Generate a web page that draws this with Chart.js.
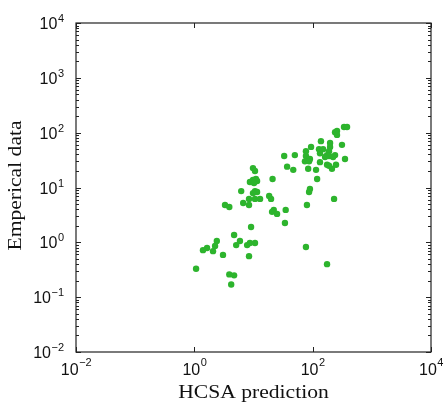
<!DOCTYPE html>
<html>
<head>
<meta charset="utf-8">
<script src="https://cdn.jsdelivr.net/npm/chart.js@4.4.1/dist/chart.umd.min.js"></script>
<style>
  html, body { margin: 0; padding: 0; background: #fff; }
  #wrap { width: 445px; height: 402px; }
</style>
</head>
<body>
<div id="wrap"><canvas id="scatterChart"></canvas></div>
<script>
// HCSA predictions vs. empirical measurements
const hcsaPred = [
  339, 381, 258, 239, 258, 138, 197, 313, 94, 197,
  128, 150, 77, 189, 133, 33, 50, 77, 90, 175,
  189, 239, 74, 87, 162, 221, 352, 133, 175, 189,
  248, 212, 37, 47, 84, 114, 9.8, 10.6, 11, 9.8,
  11.5, 8.7, 10.2, 21, 119, 6.2, 10.6, 11.5, 9.8, 90,
  87, 18.4, 19.8, 8.4, 10.6, 12.9, 6.7, 8.4, 3.3, 3.9,
  80, 230, 22, 20.6, 25, 35, 34, 9.1, 4.7, 2.4,
  5.9, 5.1, 2.24, 1.64, 1.40, 2.07, 10.6, 8.7, 7.8, 77,
  3.05, 8.4, 1.07, 175, 3.9, 4.7, 4.2
];
const empirical = [
  127, 127, 107, 102, 91, 70, 65, 60, 55, 55,
  50, 50, 46, 46, 42, 37.5, 39, 37.5, 33, 39,
  37.5, 39, 30, 30, 36, 36, 33, 29, 26, 25,
  26, 22, 24, 21, 22, 21, 22.6, 20, 14.3, 13.7,
  13.1, 12.6, 12.1, 14.3, 14.3, 8.6, 8.6, 8.3, 7.9, 9.4,
  8.3, 7.0, 6.2, 6.2, 6.2, 6.2, 5.2, 4.8, 4.8, 4.4,
  4.8, 6.2, 3.9, 3.6, 3.3, 3.9, 2.25, 1.9, 1.36, 1.06,
  1.06, 0.89, 0.86, 0.79, 0.72, 0.69, 0.97, 0.97, 0.89, 0.82,
  0.59, 0.56, 0.33, 0.40, 0.26, 0.25, 0.17
];

// decade exponents that get a label
const xTickExp = [-2, 0, 2, 4];
const yTickExp = [-2, -1, 0, 1, 2, 3, 4];
const minorSteps = [2, 3, 4, 5, 6, 7, 8, 9];

const points = hcsaPred.map((x, i) => ({ x: x, y: empirical[i] }));

// frame, inward ticks and power-of-ten labels, matlab style
const axesPlugin = {
  id: 'logAxes',
  afterDraw(chart) {
    const ctx = chart.ctx;
    const a = chart.chartArea;
    const xs = chart.scales.x, ys = chart.scales.y;
    ctx.save();
    ctx.strokeStyle = '#222';
    ctx.lineWidth = 1.2;
    ctx.strokeRect(a.left, a.top, a.right - a.left, a.bottom - a.top);

    ctx.lineWidth = 1;
    ctx.beginPath();
    xTickExp.forEach(e => {
      const px = Math.round(xs.getPixelForValue(Math.pow(10, e))) + 0.5;
      ctx.moveTo(px, a.bottom); ctx.lineTo(px, a.bottom - 5);
      ctx.moveTo(px, a.top); ctx.lineTo(px, a.top + 5);
    });
    yTickExp.forEach(e => {
      const py = Math.round(ys.getPixelForValue(Math.pow(10, e))) + 0.5;
      ctx.moveTo(a.left, py); ctx.lineTo(a.left + 5, py);
      ctx.moveTo(a.right, py); ctx.lineTo(a.right - 5, py);
      if (e < 4) {
        minorSteps.forEach(m => {
          const q = Math.round(ys.getPixelForValue(m * Math.pow(10, e))) + 0.5;
          ctx.moveTo(a.left, q); ctx.lineTo(a.left + 3, q);
          ctx.moveTo(a.right, q); ctx.lineTo(a.right - 3, q);
        });
      }
    });
    ctx.stroke();

    ctx.fillStyle = '#111';
    const baseFont = '16px "Liberation Sans", Arial, sans-serif';
    const expFont = '11px "Liberation Sans", Arial, sans-serif';
    const expText = e => (e < 0 ? '\u2212' : '') + Math.abs(e);

    // x labels, centred under the tick
    ctx.textBaseline = 'alphabetic';
    xTickExp.forEach(e => {
      const px = xs.getPixelForValue(Math.pow(10, e));
      ctx.font = baseFont;
      const wb = ctx.measureText('10').width;
      ctx.font = expFont;
      const we = ctx.measureText(expText(e)).width;
      const x0 = px - (wb + we) / 2;
      ctx.textAlign = 'left';
      ctx.font = baseFont;
      ctx.fillText('10', x0, a.bottom + 23);
      ctx.font = expFont;
      ctx.fillText(expText(e), x0 + wb + 0.5, a.bottom + 14);
    });

    // y labels, right aligned next to the axis
    yTickExp.forEach(e => {
      const py = ys.getPixelForValue(Math.pow(10, e));
      ctx.font = expFont;
      const we = ctx.measureText(expText(e)).width;
      ctx.textAlign = 'right';
      ctx.fillText(expText(e), a.left - 12, py - 1);
      ctx.font = baseFont;
      ctx.fillText('10', a.left - 12 - we - 0.5, py + 6);
    });

    // axis titles (serif, slightly widened)
    ctx.font = '18px "Liberation Serif", "Times New Roman", serif';
    ctx.textAlign = 'center';
    ctx.textBaseline = 'alphabetic';
    ctx.save();
    ctx.translate((a.left + a.right) / 2, a.bottom + 46);
    ctx.scale(1.2, 1);
    ctx.fillText('HCSA prediction', 0, 0);
    ctx.restore();
    ctx.translate(21, (a.top + a.bottom) / 2 - 2);
    ctx.rotate(-Math.PI / 2);
    ctx.scale(1.2, 1);
    ctx.fillText('Emperical data', 0, 0);
    ctx.restore();
  }
};

new Chart(document.getElementById('scatterChart'), {
  type: 'scatter',
  data: {
    datasets: [{
      label: 'data',
      data: points,
      backgroundColor: '#2db42d',
      borderWidth: 0,
      pointRadius: 3.2,
      pointHoverRadius: 3.2
    }]
  },
  options: {
    responsive: true,
    maintainAspectRatio: false,
    animation: false,
    layout: { padding: { left: 76, top: 23, right: 14, bottom: 50 } },
    plugins: {
      legend: { display: false },
      tooltip: { enabled: false }
    },
    scales: {
      x: { type: 'logarithmic', min: 0.01, max: 10000, display: false },
      y: { type: 'logarithmic', min: 0.01, max: 10000, display: false }
    }
  },
  plugins: [axesPlugin]
});
</script>
</body>
</html>
